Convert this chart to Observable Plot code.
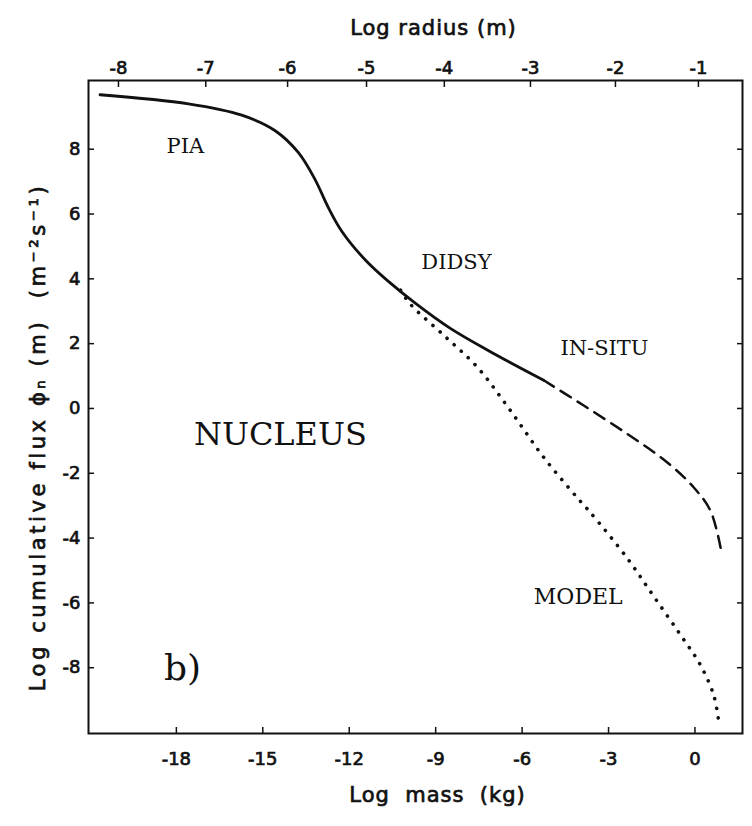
<!DOCTYPE html>
<html>
<head>
<meta charset="utf-8">
<script src="https://cdn.jsdelivr.net/npm/d3@7"></script>
<script src="https://cdn.jsdelivr.net/npm/@observablehq/plot@0.6"></script>
<style>
  html, body { margin: 0; padding: 0; background: #fff; }
  #chart { width: 752px; height: 826px; }
</style>
</head>
<body>
<div id="chart"></div>
<script>
// Tick values / labels
const massTicks = [-18, -15, -12, -9, -6, -3, 0];
const fluxTicks = [-8, -6, -4, -2, 0, 2, 4, 6, 8];
const radiusLabels = [-8, -7, -6, -5, -4, -3, -2, -1];
// log-mass position of each log-radius tick
const radiusTickMass = [-20.01, -16.98, -14.14, -11.40, -8.70, -5.71, -2.76, 0.12];

// Solid curve (PIA / DIDSY)
const solidMass = [-20.65, -17.58, -15.73, -14.57, -13.77, -13.19, -12.72, -12.26, -11.45, -10.64, -9.71, -8.49, -7.10, -5.25];
const solidFlux = [9.68, 9.40, 9.05, 8.57, 7.90, 7.07, 6.19, 5.47, 4.59, 3.92, 3.25, 2.47, 1.75, 0.87];

// Dashed curve (IN-SITU extrapolation)
const dashMass = [-5.25, -3.86, -2.36, -0.97, -0.04, 0.54, 0.89];
const dashFlux = [0.87, 0.09, -0.78, -1.66, -2.44, -3.16, -4.30];

// Dotted curve (MODEL)
const dotMass = [-10.22, -9.88, -8.72, -7.56, -6.41, -5.25, -4.09, -3.63, -2.36, -1.43, -0.50, 0.19, 0.65, 0.82];
const dotFlux = [3.65, 3.22, 2.26, 1.28, -0.06, -1.51, -2.75, -3.21, -4.61, -5.80, -6.99, -7.92, -8.85, -9.62];

// Annotations
const labelText = ["PIA", "DIDSY", "IN-SITU", "NUCLEUS", "MODEL", "b)"];
const labelMass = [-17.69, -8.28, -3.14, -14.39, -4.05, -17.79];
const labelFlux = [8.09, 4.51, 1.85, -0.80, -5.83, -8.02];
const labelSize = [21, 21, 21, 32, 22, 36];

// Axis titles
const xTitleTop = "Log\u00a0radius\u00a0(m)";
const xTitleBottom = "Log\u00a0\u00a0mass\u00a0\u00a0(kg)";
const yTitle = "Log cumulative flux \u03d5\u2099 (m)\u00a0\u00a0(m\u207b\u00b2s\u207b\u00b9)";

const toPts = (xs, ys) => xs.map((x, i) => ({x, y: ys[i]}));
const solid = toPts(solidMass, solidFlux);
const dashed = toPts(dashMass, dashFlux);
const dotted = toPts(dotMass, dotFlux);
const labels = labelText.map((t, i) => ({t, x: labelMass[i], y: labelFlux[i], s: labelSize[i]}));

const radiusMap = new Map(radiusTickMass.map((m, i) => [m, String(radiusLabels[i])]));
const sans = "DejaVu Sans";
const serif = "DejaVu Serif";

const chart = Plot.plot({
  width: 752,
  height: 826,
  marginLeft: 88,
  marginRight: 10,
  marginTop: 80,
  marginBottom: 93,
  style: {fontFamily: sans, fontSize: "18px", color: "#111", background: "#fff"},
  x: {domain: [-21.05, 1.65]},
  y: {domain: [-10.03, 10.12]},
  marks: [
    Plot.frame({stroke: "#111", strokeWidth: 2}),
    Plot.axisX(massTicks, {anchor: "bottom", tickSize: -6, tickPadding: 25, strokeWidth: 1.5, tickFormat: d => String(d), label: null, fontSize: 18}),
    Plot.axisX(radiusTickMass, {anchor: "top", tickSize: -6, tickPadding: 13, strokeWidth: 1.5, tickFormat: d => radiusMap.get(d), label: null, fontSize: 18}),
    Plot.axisY(fluxTicks, {anchor: "left", tickSize: -6, tickPadding: 14, strokeWidth: 1.5, tickFormat: d => String(d), label: null, fontSize: 18}),
    Plot.axisY(fluxTicks, {anchor: "right", tickSize: -6, strokeWidth: 1.5, tickFormat: () => "", label: null}),
    Plot.line(solid, {x: "x", y: "y", curve: "catmull-rom", stroke: "#111", strokeWidth: 2.8}),
    Plot.line(dashed, {x: "x", y: "y", curve: "catmull-rom", stroke: "#111", strokeWidth: 2.5, strokeDasharray: "12,8"}),
    Plot.line(dotted, {x: "x", y: "y", curve: "catmull-rom", stroke: "#111", strokeWidth: 3.6, strokeLinecap: "round", strokeDasharray: "0.1,9.5"}),
    Plot.text(labels, {x: "x", y: "y", text: "t", fontSize: d => d.s, fontFamily: serif, fill: "#111"}),
    Plot.text([xTitleTop], {frameAnchor: "top", textAnchor: "middle", dx: 18, dy: -60, fontSize: 21, fontFamily: sans, fill: "#111"}),
    Plot.text([xTitleBottom], {frameAnchor: "bottom", textAnchor: "middle", dx: 22, dy: 68, fontSize: 21, fontFamily: sans, fill: "#111"}),
    Plot.text([yTitle], {frameAnchor: "left", textAnchor: "middle", dx: -50, dy: 30, rotate: -90, fontSize: 21, fontFamily: sans, fill: "#111"})
  ]
});
document.getElementById("chart").appendChild(chart);

// Pen-plotter look: slightly heavier sans text, and wider letter spacing on titles
const spacing = new Map([[xTitleTop, "1px"], [xTitleBottom, "1px"], [yTitle, "3.6px"]]);
d3.select(chart).selectAll("text").each(function () {
  const el = d3.select(this);
  const txt = this.textContent;
  if (labelText.includes(txt)) return;
  el.attr("stroke", "#111").attr("stroke-width", 0.7).attr("paint-order", "stroke");
  if (spacing.has(txt)) el.attr("letter-spacing", spacing.get(txt));
});
</script>
</body>
</html>
